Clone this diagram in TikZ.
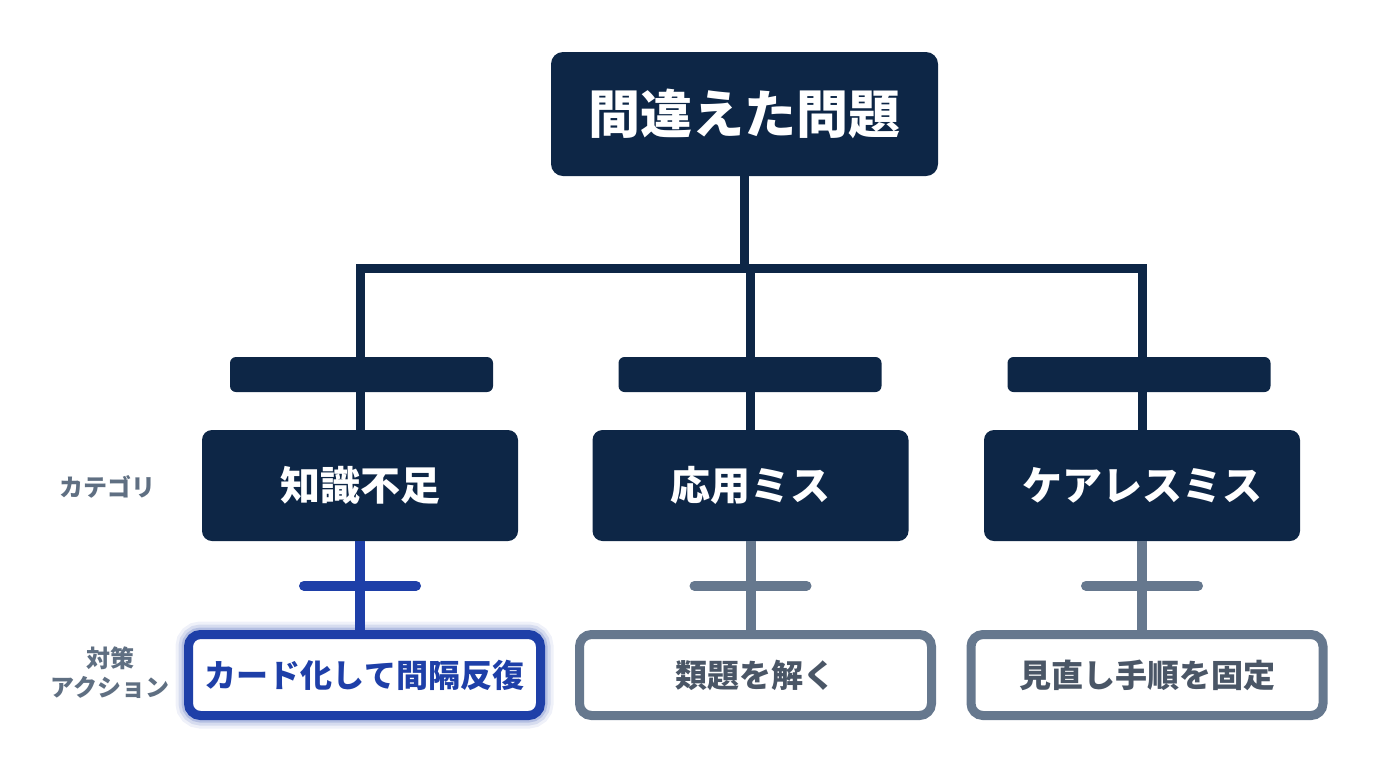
\documentclass[tikz,border=0pt]{standalone}
\usepackage{fontspec}
\setmainfont{Noto Sans CJK JP}
\usetikzlibrary{calc,positioning}

\definecolor{navy}{HTML}{0D2646}
\definecolor{accent}{HTML}{1E3FA8}
\definecolor{slate}{HTML}{66788E}
\definecolor{slatetext}{HTML}{4A5666}
\definecolor{labelgray}{HTML}{5F6F82}

\begin{document}
\begin{tikzpicture}[x=0.5pt, y=-0.5pt,
    root/.style={rectangle, fill=navy, rounded corners=6pt, text=white,
    minimum width=193.5pt, minimum height=62pt, font=\fontsize{26}{30}\selectfont\bfseries},
    category/.style={rectangle, fill=navy, rounded corners=5pt, text=white,
    minimum width=158pt, minimum height=55.5pt, font=\fontsize{20}{24}\selectfont\bfseries},
    bar/.style={rectangle, fill=navy, rounded corners=3pt, minimum width=131.5pt, minimum height=17.5pt},
    action/.style={rectangle, draw=slate, line width=4.5pt, fill=white, rounded corners=6pt, text=slatetext,
    minimum width=176pt, minimum height=40.5pt, font=\fontsize{16}{19}\selectfont\bfseries},
    glow/.style={action, draw=accent, text=accent,
    preaction={draw=accent, line width=13pt, opacity=0.07},
    preaction={draw=accent, line width=10pt, opacity=0.12},
    preaction={draw=accent, line width=7pt, opacity=0.18}},
    link/.style={draw=navy, line width=4.5pt},
    stem/.style={draw=slate, line width=5pt},
    tick/.style={stem, line cap=round},
    rowlabel/.style={text=labelgray, align=center, font=\fontsize{12}{14.5}\selectfont\bfseries},
    ]
    \useasboundingbox (0,0) rectangle (1376,768);

    \node (mistake) [root] at (744.5,114) {間違えた問題};

    \node (bar1) [bar] at (361.5,374.5) {};
    \node (bar2) [bar] at (750,374.5) {};
    \node (bar3) [bar] at (1139,374.5) {};

    \coordinate (fork) at (744.5,268);

    \node (knowledge) [category] at (360,485.5) {知識不足};
    \node (applied) [category] at (750.5,485.5) {応用ミス};
    \node (careless) [category] at (1142,485.5) {ケアレスミス};

    \draw [link] (mistake.south) -- (fork);
    \draw [link] (knowledge.north) |- (fork) -| (careless.north);
    \draw [link] (applied.north) -- (applied.north |- fork);

    \node (cards) [glow] at (364.5,675) {カード化して間隔反復};
    \node (similar) [action] at (755.5,675) {類題を解く};
    \node (review) [action] at (1147,675) {見直し手順を固定};

    \draw [stem, draw=accent] (knowledge.south) -- (knowledge.south |- cards.north);
    \draw [stem] (applied.south) -- (applied.south |- similar.north);
    \draw [stem] (careless.south) -- (careless.south |- review.north);

    % cross ticks on the lower stems
    \draw [tick, draw=accent] ($(knowledge.south)!0.5!(knowledge.south |- cards.north)$) +(-56,0) -- +(56,0);
    \draw [tick] ($(applied.south)!0.5!(applied.south |- similar.north)$) +(-56,0) -- +(56,0);
    \draw [tick] ($(careless.south)!0.5!(careless.south |- review.north)$) +(-56,0) -- +(56,0);

    \node (catlabel) [rowlabel] at (107,487) {カテゴリ};
    \node (actlabel) [rowlabel] at (110,673) {対策\\アクション};
\end{tikzpicture}
\end{document}
